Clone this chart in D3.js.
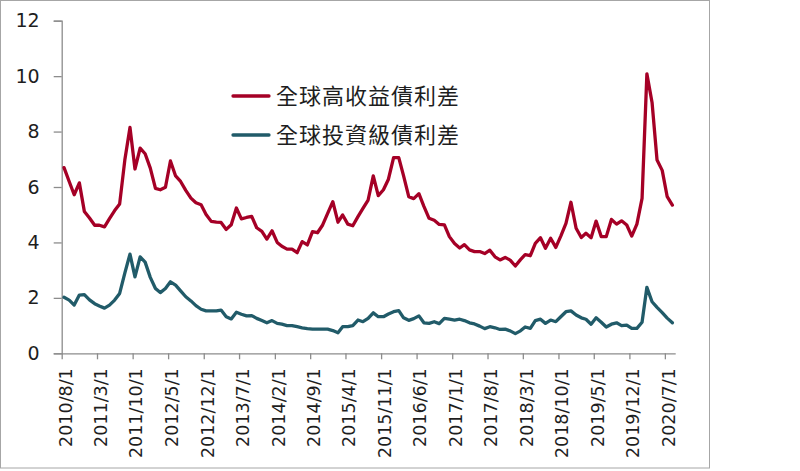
<!DOCTYPE html>
<html>
<head>
<meta charset="utf-8">
<script src="https://cdn.jsdelivr.net/npm/d3@7"></script>
<style>
  html, body { margin: 0; padding: 0; background: #fff; }
  svg { display: block; }
</style>
</head>
<body>
<svg id="chart" width="800" height="471"></svg>
<script>
// ---------------- DATA ----------------
const seriesNames = ["全球高收益債利差", "全球投資級債利差"];
const firstMonth = "2010/8";   // monthly observations, 2010/8 .. 2020/8
const lastMonth = "2020/8";

const highYield = [
  6.70, 6.20, 5.72, 6.15, 5.12, 4.88, 4.62, 4.62, 4.56, 4.86,
  5.15, 5.39, 6.97, 8.15, 6.65, 7.40, 7.20, 6.68, 5.95, 5.90,
  5.99, 6.94, 6.40, 6.20, 5.88, 5.60, 5.43, 5.36, 5.01, 4.76,
  4.73, 4.72, 4.47, 4.64, 5.24, 4.85, 4.90, 4.94, 4.53, 4.40,
  4.12, 4.42, 4.00, 3.86, 3.76, 3.76, 3.63, 4.03, 3.91, 4.39,
  4.35, 4.63, 5.05, 5.47, 4.73, 4.99, 4.66, 4.60, 4.93, 5.23,
  5.53, 6.40, 5.69, 5.90, 6.28, 7.06, 7.06, 6.40, 5.65, 5.58,
  5.76, 5.30, 4.87, 4.80, 4.65, 4.63, 4.21, 3.96, 3.80, 3.92,
  3.73, 3.67, 3.67, 3.60, 3.72, 3.48, 3.37, 3.46, 3.36, 3.15,
  3.38, 3.56, 3.52, 3.97, 4.17, 3.79, 4.15, 3.82, 4.23, 4.69,
  5.45, 4.51, 4.18, 4.33, 4.17, 4.77, 4.21, 4.21, 4.83, 4.66,
  4.78, 4.63, 4.23, 4.66, 5.59, 10.08, 9.05, 6.97, 6.60, 5.65,
  5.35
];

const investmentGrade = [
  2.02, 1.92, 1.74, 2.10, 2.12, 1.93, 1.79, 1.71, 1.63, 1.74,
  1.92, 2.16, 2.89, 3.58, 2.76, 3.48, 3.29, 2.74, 2.34, 2.19,
  2.34, 2.58, 2.46, 2.25, 2.04, 1.89, 1.72, 1.59, 1.53, 1.53,
  1.53, 1.56, 1.32, 1.24, 1.48, 1.41, 1.35, 1.36, 1.26, 1.18,
  1.10, 1.18, 1.08, 1.05, 1.00, 1.00, 0.96, 0.92, 0.89, 0.87,
  0.87, 0.87, 0.87, 0.82, 0.74, 0.96, 0.96, 1.00, 1.20, 1.14,
  1.26, 1.46, 1.32, 1.32, 1.42, 1.50, 1.54, 1.28, 1.19, 1.25,
  1.35, 1.10, 1.08, 1.14, 1.07, 1.26, 1.23, 1.20, 1.23, 1.18,
  1.10, 1.06, 0.98, 0.89, 0.96, 0.92, 0.86, 0.87, 0.81, 0.71,
  0.81, 0.95, 0.90, 1.18, 1.23, 1.08, 1.20, 1.14, 1.32, 1.50,
  1.53, 1.38, 1.28, 1.23, 1.05, 1.28, 1.12, 0.95, 1.05, 1.10,
  1.00, 1.02, 0.90, 0.90, 1.12, 2.38, 1.86, 1.66, 1.47, 1.27,
  1.10
];

const xTickLabels = [
  "2010/8/1", "2011/3/1", "2011/10/1", "2012/5/1", "2012/12/1", "2013/7/1",
  "2014/2/1", "2014/9/1", "2015/4/1", "2015/11/1", "2016/6/1", "2017/1/1",
  "2017/8/1", "2018/3/1", "2018/10/1", "2019/5/1", "2019/12/1", "2020/7/1"
];
const yTicks = [0, 2, 4, 6, 8, 10, 12];
const axisStart = "2010/8/1";
const axisEnd = "2020/9/1";

// ---------------- CHART ----------------
const parseDay = d3.timeParse("%Y/%m/%d");
const parseMonth = d3.timeParse("%Y/%m");
const months = d3.timeMonth.range(parseMonth(firstMonth), d3.timeMonth.offset(parseMonth(lastMonth), 1));
// each monthly observation sits mid-month on the date axis
const pointDates = months.map(m => d3.timeDay.offset(m, 14));

const svg = d3.select("#chart");
const colors = ["#A50026", "#215B69"];
const axisColor = "#8c8c8c";
const textColor = "#1e1e1e";
const numFont = "'DejaVu Sans', Verdana, sans-serif";
const cjkFont = "'Noto Sans CJK TC', 'Noto Sans CJK SC', sans-serif";

svg.append("rect").attr("width", 800).attr("height", 471).attr("fill", "#fff");
// chart border
svg.append("rect")
  .attr("x", 0.5).attr("y", 0.5).attr("width", 709).attr("height", 467.5)
  .attr("fill", "none").attr("stroke", "#a6a6a6").attr("stroke-width", 1);

const x = d3.scaleTime()
  .domain([parseDay(axisStart), parseDay(axisEnd)])
  .range([61.7, 675.2]);
const y = d3.scaleLinear().domain([0, 12]).range([353.3, 20.7]);

// Y axis
const yAxis = svg.append("g").attr("transform", "translate(61.7,0)")
  .call(d3.axisLeft(y).tickValues(yTicks).tickSize(8).tickPadding(14).tickFormat(d3.format("d")));
yAxis.select(".domain").attr("stroke", axisColor).attr("stroke-width", 1.3);
yAxis.selectAll(".tick line").attr("stroke", axisColor).attr("stroke-width", 1.3);
yAxis.selectAll(".tick text")
  .attr("fill", textColor).attr("font-family", numFont).attr("font-size", "19px");

// X axis
const xTickDates = xTickLabels.map(s => parseDay(s));
const xAxis = svg.append("g").attr("transform", "translate(0,353.3)")
  .call(d3.axisBottom(x).tickValues(xTickDates).tickSize(6).tickSizeOuter(0)
    .tickFormat((d, i) => xTickLabels[i]));
xAxis.select(".domain").attr("stroke", axisColor).attr("stroke-width", 1.3);
xAxis.selectAll(".tick line").attr("stroke", axisColor).attr("stroke-width", 1.3);
xAxis.selectAll(".tick text")
  .attr("fill", textColor).attr("font-family", numFont).attr("font-size", "17.5px")
  .attr("text-anchor", "end")
  .attr("transform", "translate(3,15) rotate(-90)")
  .attr("x", 0).attr("y", 0).attr("dy", "0.36em");

// Lines
const line = d3.line().x((d, i) => x(pointDates[i])).y(d => y(d));
[highYield, investmentGrade].forEach((vals, k) => {
  svg.append("path")
    .datum(vals)
    .attr("d", line)
    .attr("fill", "none")
    .attr("stroke", colors[k])
    .attr("stroke-width", 3.3)
    .attr("stroke-linejoin", "round")
    .attr("stroke-linecap", "round");
});

// Legend
const legendY = [96, 135];
seriesNames.forEach((name, k) => {
  const g = svg.append("g").attr("transform", `translate(0,${legendY[k]})`);
  g.append("line").attr("x1", 233).attr("x2", 269).attr("y1", 0).attr("y2", 0)
    .attr("stroke", colors[k]).attr("stroke-width", 3.3).attr("stroke-linecap", "round");
  g.append("text").attr("x", 276).attr("y", 0).attr("dy", "0.36em")
    .attr("fill", textColor).attr("font-family", cjkFont).attr("font-size", "22px")
    .attr("letter-spacing", "1px")
    .text(name);
});
</script>
</body>
</html>
